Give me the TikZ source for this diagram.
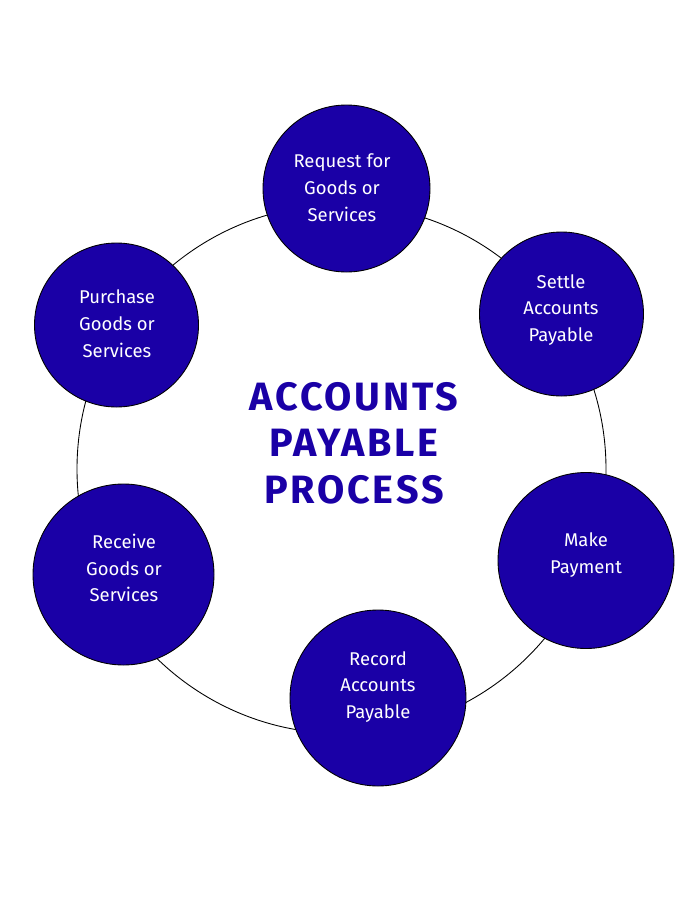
\documentclass[tikz,border=0pt]{standalone}
\usepackage{fontspec}
\setmainfont{Fira Sans}
\newfontfamily\titlefont[LetterSpace=7]{Fira Sans}
\definecolor{apblue}{HTML}{1A00A6}
\tikzset{
	stage/.style={circle, draw=black, line width=0.5pt, fill=apblue, inner sep=0pt, minimum size=#1*0.02cm},
	caption/.style={text=white, align=center, inner sep=0pt, font=\fontsize{10.5}{15.3}\selectfont},
	headline/.style={text=apblue, align=center, inner sep=0pt, font=\titlefont\bfseries\fontsize{22.5}{26.4}\selectfont}
}
\begin{document}
\begin{tikzpicture}[x=0.02cm, y=-0.02cm]
	\useasboundingbox[fill=white] (0,0) rectangle (675,900);
	\draw[line width=0.5pt] (341.5,469) circle [radius=264.5];
	
	\node[stage=167] (request) at (346.5,188.5) {};
	\node[stage=164] (settle) at (561.5,314) {};
	\node[stage=176] (payment) at (586,560.5) {};
	\node[stage=176] (record) at (378,698) {};
	\node[stage=181] (receive) at (123.5,574.5) {};
	\node[stage=164] (purchase) at (116.5,325) {};
	
	\node[caption] (requesttext) at (342,188) {Request for\\Goods or\\Services};
	\node[caption] (settletext) at (561,310) {Settle\\Accounts\\Payable};
	\node[caption] (paymenttext) at (586,555) {Make\\Payment};
	\node[caption] (recordtext) at (378,687) {Record\\Accounts\\Payable};
	\node[caption] (receivetext) at (124,568) {Receive\\Goods or\\Services};
	\node[caption] (purchasetext) at (117,323.5) {Purchase\\Goods or\\Services};
	
	\node[headline] (title) at (354,443) {ACCOUNTS\\PAYABLE\\PROCESS};
\end{tikzpicture}
\end{document}
